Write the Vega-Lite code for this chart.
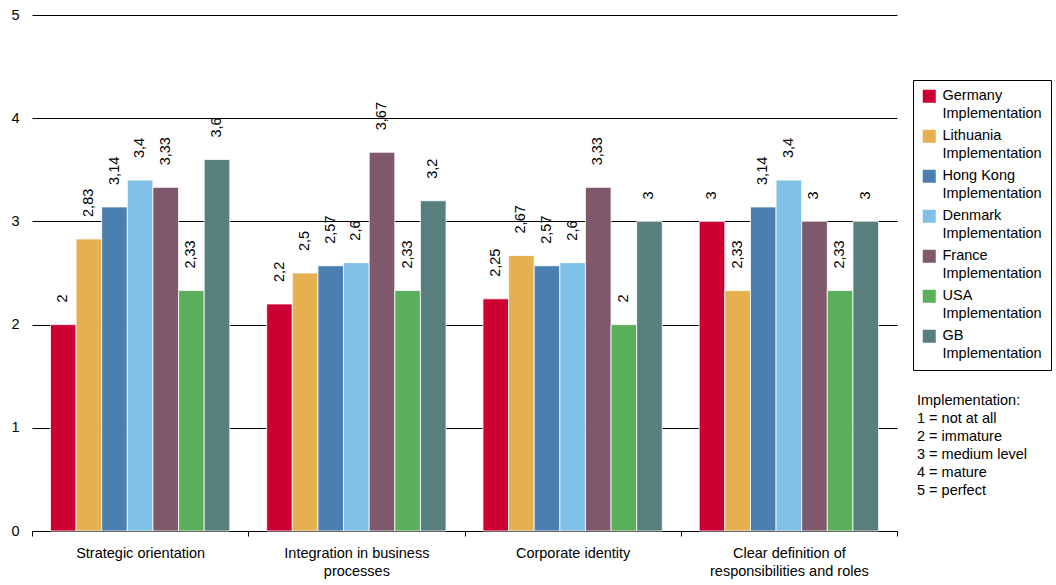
{
  "$schema": "https://vega.github.io/schema/vega-lite/v6.json",
  "width": 865,
  "height": 516,
  "autosize": {"type": "none"},
  "padding": {"left": 32, "top": 15, "right": 159, "bottom": 54},
  "background": "white",
  "title": {
    "text": ["Implementation:", "1 = not at all", "2 = immature", "3 = medium level", "4 = mature", "5 = perfect"],
    "orient": "top",
    "anchor": "start",
    "frame": "group",
    "align": "left",
    "baseline": "top",
    "dx": 885,
    "dy": 495,
    "font": "Liberation Sans",
    "fontSize": 14.5,
    "fontWeight": "normal",
    "lineHeight": 18,
    "color": "black"
  },
  "config": {
    "font": "Liberation Sans",
    "view": {"stroke": null},
    "locale": {"number": {"decimal": ",", "thousands": ".", "grouping": [3], "currency": ["", " €"]}},
    "style": {"guide-label": {"lineHeight": 18, "font": "Liberation Sans", "fontSize": 14.5, "fill": "black"}}
  },
  "data": {
    "values": [
      {"aspect": "Strategic orientation", "country": "Germany", "score": 2},
      {"aspect": "Strategic orientation", "country": "Lithuania", "score": 2.83},
      {"aspect": "Strategic orientation", "country": "Hong Kong", "score": 3.14},
      {"aspect": "Strategic orientation", "country": "Denmark", "score": 3.4},
      {"aspect": "Strategic orientation", "country": "France", "score": 3.33},
      {"aspect": "Strategic orientation", "country": "USA", "score": 2.33},
      {"aspect": "Strategic orientation", "country": "GB", "score": 3.6},
      {"aspect": "Integration in business processes", "country": "Germany", "score": 2.2},
      {"aspect": "Integration in business processes", "country": "Lithuania", "score": 2.5},
      {"aspect": "Integration in business processes", "country": "Hong Kong", "score": 2.57},
      {"aspect": "Integration in business processes", "country": "Denmark", "score": 2.6},
      {"aspect": "Integration in business processes", "country": "France", "score": 3.67},
      {"aspect": "Integration in business processes", "country": "USA", "score": 2.33},
      {"aspect": "Integration in business processes", "country": "GB", "score": 3.2},
      {"aspect": "Corporate identity", "country": "Germany", "score": 2.25},
      {"aspect": "Corporate identity", "country": "Lithuania", "score": 2.67},
      {"aspect": "Corporate identity", "country": "Hong Kong", "score": 2.57},
      {"aspect": "Corporate identity", "country": "Denmark", "score": 2.6},
      {"aspect": "Corporate identity", "country": "France", "score": 3.33},
      {"aspect": "Corporate identity", "country": "USA", "score": 2},
      {"aspect": "Corporate identity", "country": "GB", "score": 3},
      {"aspect": "Clear definition of responsibilities and roles", "country": "Germany", "score": 3},
      {"aspect": "Clear definition of responsibilities and roles", "country": "Lithuania", "score": 2.33},
      {"aspect": "Clear definition of responsibilities and roles", "country": "Hong Kong", "score": 3.14},
      {"aspect": "Clear definition of responsibilities and roles", "country": "Denmark", "score": 3.4},
      {"aspect": "Clear definition of responsibilities and roles", "country": "France", "score": 3},
      {"aspect": "Clear definition of responsibilities and roles", "country": "USA", "score": 2.33},
      {"aspect": "Clear definition of responsibilities and roles", "country": "GB", "score": 3}
    ]
  },
  "encoding": {
    "x": {
      "field": "aspect",
      "type": "nominal",
      "sort": ["Strategic orientation", "Integration in business processes", "Corporate identity", "Clear definition of responsibilities and roles"],
      "scale": {"paddingInner": 0, "paddingOuter": 0},
      "axis": {
        "title": null,
        "labelAngle": 0,
        "labelBaseline": "top",
        "labelPadding": 10,
        "labelLimit": 0,
        "labelFontSize": 14.5,
        "labelColor": "black",
        "labelLineHeight": 18,
        "labelExpr": "datum.value == 'Integration in business processes' ? ['Integration in business', 'processes'] : datum.value == 'Clear definition of responsibilities and roles' ? ['Clear definition of', 'responsibilities and roles'] : datum.label",
        "tickBand": "extent",
        "tickSize": 5,
        "tickColor": "black",
        "domainColor": "black",
        "grid": false
      }
    },
    "xOffset": {
      "field": "country",
      "sort": ["Germany", "Lithuania", "Hong Kong", "Denmark", "France", "USA", "GB"],
      "scale": {"paddingInner": 0, "paddingOuter": 0.72}
    },
    "y": {
      "field": "score",
      "type": "quantitative",
      "scale": {"domain": [0, 5]},
      "axis": {
        "title": null,
        "values": [0, 1, 2, 3, 4, 5],
        "format": "d",
        "domain": false,
        "ticks": false,
        "labelPadding": 13,
        "labelFontSize": 14.5,
        "labelColor": "black",
        "grid": true,
        "gridColor": "black",
        "gridWidth": 1
      }
    }
  },
  "layer": [
    {
      "mark": {"type": "bar", "stroke": "white", "strokeWidth": 0.8},
      "encoding": {
        "color": {
          "field": "country",
          "type": "nominal",
          "scale": {
            "domain": ["Germany", "Lithuania", "Hong Kong", "Denmark", "France", "USA", "GB"],
            "range": ["#CC0033", "#E5B050", "#4A7FB0", "#80C0E6", "#7F596B", "#5AB05A", "#587F7E"]
          },
          "legend": {
            "title": null,
            "orient": "none",
            "legendX": 881,
            "legendY": 65,
            "strokeColor": "black",
            "padding": 9,
            "symbolType": "square",
            "symbolSize": 169,
            "symbolStrokeWidth": 0,
            "labelFontSize": 14.5,
            "labelColor": "black",
            "labelLimit": 0,
            "labelOffset": 6,
            "labelBaseline": "middle",
            "rowPadding": 7,
            "labelExpr": "[datum.label, 'Implementation']"
          }
        }
      }
    },
    {
      "mark": {"type": "text", "angle": 270, "align": "left", "baseline": "middle", "dx": 22, "fontSize": 14.5, "color": "black"},
      "encoding": {
        "text": {"field": "score", "type": "quantitative", "format": ".3~g"}
      }
    }
  ]
}
